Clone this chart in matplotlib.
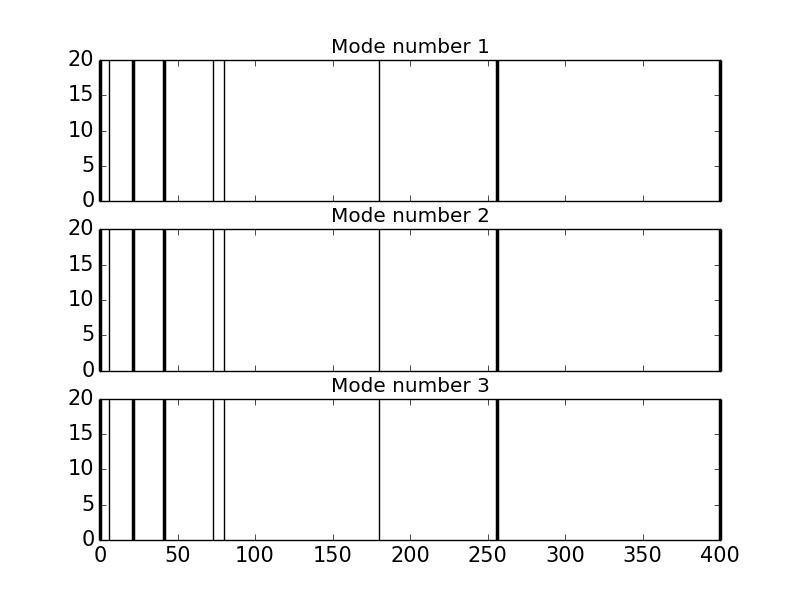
import matplotlib
matplotlib.use('Agg')
import matplotlib.pyplot as plt

plt.style.use('classic')
plt.rcParams['xtick.labelsize'] = 15
plt.rcParams['ytick.labelsize'] = 15

# mode line positions
thick_x = [0, 21, 41, 256, 400]
thin_x = [6, 73, 80, 180]
line_height = 20
modes = [1, 2, 3]

fig, axes = plt.subplots(3, 1, sharex=True, figsize=(8, 6), dpi=100)
for ax, m in zip(axes, modes):
    ax.vlines(thick_x, 0, line_height, colors='k', linewidth=2.5, clip_on=False)
    ax.vlines(thin_x, 0, line_height, colors='k', linewidth=1)
    ax.set_xlim(0, 400)
    ax.set_ylim(0, 20)
    ax.set_yticks([0, 5, 10, 15, 20])
    ax.set_title('Mode number %d' % m, fontsize=14.4)

fig.savefig('out.png')
